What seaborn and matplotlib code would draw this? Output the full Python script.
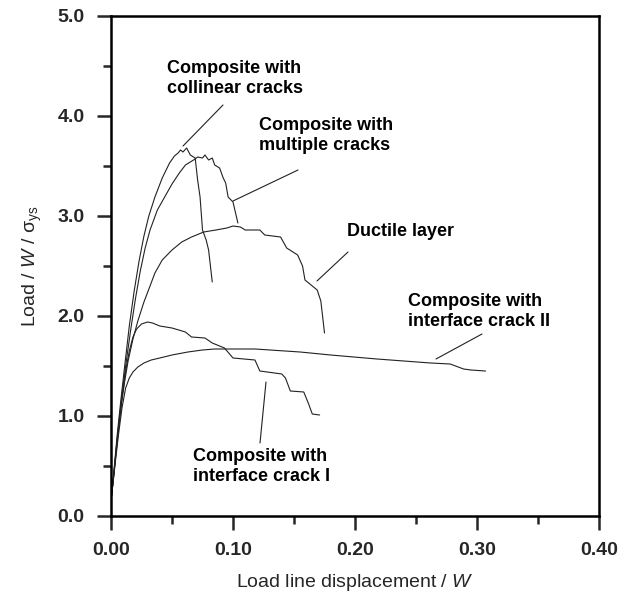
import matplotlib
matplotlib.use("Agg")
import matplotlib.pyplot as plt
import seaborn as sns
import pandas as pd

# ---- data ----
collinear_x = [0.0, 0.002, 0.005, 0.008, 0.0115, 0.015, 0.019, 0.023, 0.027, 0.031, 0.036, 0.042,
               0.048, 0.052, 0.055, 0.057, 0.059, 0.062, 0.065, 0.069, 0.071, 0.073, 0.075, 0.078,
               0.080, 0.083]
collinear_y = [0.15, 0.40, 0.80, 1.15, 1.53, 1.90, 2.25, 2.55, 2.80, 3.00, 3.19, 3.38,
               3.53, 3.60, 3.63, 3.66, 3.64, 3.68, 3.61, 3.58, 3.36, 3.19, 2.86, 2.76,
               2.66, 2.34]

multiple_x = [0.0, 0.002, 0.005, 0.008, 0.012, 0.016, 0.020, 0.024, 0.028, 0.032, 0.038, 0.044,
              0.050, 0.056, 0.061, 0.065, 0.069, 0.071, 0.075, 0.077, 0.080, 0.083, 0.085, 0.089,
              0.092, 0.094, 0.096, 0.100, 0.104]
multiple_y = [0.15, 0.38, 0.76, 1.10, 1.50, 1.85, 2.17, 2.45, 2.68, 2.86, 3.06, 3.19,
              3.32, 3.43, 3.51, 3.54, 3.57, 3.59, 3.58, 3.61, 3.56, 3.58, 3.51, 3.48,
              3.38, 3.33, 3.19, 3.14, 2.93]

ductile_x = [0.0, 0.002, 0.005, 0.008, 0.011, 0.014, 0.018, 0.022, 0.027, 0.032, 0.036, 0.042,
             0.050, 0.058, 0.066, 0.076, 0.086, 0.095, 0.100, 0.106, 0.110, 0.122, 0.126, 0.139,
             0.144, 0.153, 0.157, 0.159, 0.165, 0.169, 0.172, 0.175]
ductile_y = [0.15, 0.38, 0.75, 1.07, 1.33, 1.55, 1.77, 1.95, 2.14, 2.30, 2.43, 2.56,
             2.66, 2.74, 2.79, 2.84, 2.86, 2.88, 2.90, 2.89, 2.86, 2.86, 2.81, 2.79,
             2.68, 2.61, 2.50, 2.36, 2.30, 2.26, 2.15, 1.83]

crack1_x = [0.0, 0.003, 0.006, 0.009, 0.012, 0.015, 0.018, 0.021, 0.025, 0.030, 0.034, 0.040,
            0.050, 0.061, 0.066, 0.077, 0.083, 0.093, 0.100, 0.118, 0.122, 0.140, 0.143, 0.147,
            0.158, 0.162, 0.165, 0.171]
crack1_y = [0.15, 0.50, 0.85, 1.18, 1.45, 1.65, 1.79, 1.87, 1.92, 1.94, 1.93, 1.90,
            1.88, 1.84, 1.79, 1.78, 1.73, 1.68, 1.58, 1.56, 1.45, 1.42, 1.38, 1.25,
            1.24, 1.12, 1.02, 1.01]

crack2_x = [0.0, 0.003, 0.006, 0.009, 0.012, 0.015, 0.018, 0.022, 0.027, 0.033, 0.040, 0.050,
            0.063, 0.075, 0.085, 0.118, 0.155, 0.180, 0.218, 0.240, 0.262, 0.278, 0.289, 0.295,
            0.307]
crack2_y = [0.15, 0.48, 0.80, 1.08, 1.28, 1.38, 1.44, 1.49, 1.53, 1.56, 1.58, 1.61,
            1.64, 1.66, 1.67, 1.67, 1.64, 1.61, 1.57, 1.55, 1.53, 1.52, 1.47, 1.46,
            1.45]

x_ticks = [0.0, 0.1, 0.2, 0.3, 0.4]
x_tick_labels = ["0.00", "0.10", "0.20", "0.30", "0.40"]
y_ticks = [0.0, 1.0, 2.0, 3.0, 4.0, 5.0]
y_tick_labels = ["0.0", "1.0", "2.0", "3.0", "4.0", "5.0"]

labels = {
    "collinear": "Composite with\ncollinear cracks",
    "multiple": "Composite with\nmultiple cracks",
    "ductile": "Ductile layer",
    "crack2": "Composite with\ninterface crack II",
    "crack1": "Composite with\ninterface crack I",
}

series = {
    "collinear": (collinear_x, collinear_y),
    "multiple": (multiple_x, multiple_y),
    "ductile": (ductile_x, ductile_y),
    "crack1": (crack1_x, crack1_y),
    "crack2": (crack2_x, crack2_y),
}

# ---- styling ----
sns.set_style("ticks")
plt.rcParams["font.family"] = ["Liberation Sans", "DejaVu Sans"]
plt.rcParams["mathtext.fontset"] = "custom"
plt.rcParams["mathtext.rm"] = "Liberation Sans"
plt.rcParams["mathtext.it"] = "Liberation Sans:italic"
plt.rcParams["mathtext.sf"] = "Liberation Sans"

fig = plt.figure(figsize=(6.32, 5.98), dpi=100)
ax = fig.add_axes([111 / 632, 1 - 516 / 598, (599 - 111) / 632, (516 - 16) / 598])

for name, (xs, ys) in series.items():
    df = pd.DataFrame({"x": xs, "y": ys})
    sns.lineplot(data=df, x="x", y="y", ax=ax, sort=False, estimator=None,
                 color="#222222", linewidth=0.8)

ax.set_xlim(0, 0.4)
ax.set_ylim(0, 5.0)
ax.set_xticks(x_ticks)
ax.set_xticklabels(x_tick_labels)
ax.set_yticks(y_ticks)
ax.set_yticklabels(y_tick_labels)
ax.set_xticks([0.05, 0.15, 0.25, 0.35], minor=True)
ax.set_yticks([0.5, 1.5, 2.5, 3.5, 4.5], minor=True)

for s in ax.spines.values():
    s.set_linewidth(1.8)
    s.set_color("black")

ax.tick_params(axis="both", which="major", direction="out", length=10, width=1.8,
               labelsize=14, pad=9, top=False, right=False)
ax.tick_params(axis="both", which="minor", direction="out", length=6, width=1.8,
               top=False, right=False)
for lab in ax.get_xticklabels() + ax.get_yticklabels():
    lab.set_fontweight("bold")

ax.set_xlabel(r"Load line displacement / $\mathit{W}$", fontsize=14, labelpad=9)
ax.set_ylabel(r"Load / $\mathit{W}$ / σ$_{\rm ys}$", fontsize=14, labelpad=10)


def px(xp, yp):
    return (xp - 111) / 1220.0, (516 - yp) / 100.0


text_kw = dict(fontsize=13, fontweight="semibold", ha="left", va="top", linespacing=1.25,
               color="black")

ax.text(*px(167, 60), labels["collinear"], **text_kw)
ax.text(*px(259, 117), labels["multiple"], **text_kw)
ax.text(*px(347, 223), labels["ductile"], **text_kw)
ax.text(*px(408, 293), labels["crack2"], **text_kw)
ax.text(*px(193, 448), labels["crack1"], **text_kw)

leaders = [
    ((223, 105), (183, 146)),
    ((298, 170), (233, 201)),
    ((348, 252), (317, 281)),
    ((482, 334), (436, 359)),
    ((266, 382), (260, 443)),
]
for (a, b) in leaders:
    (x0, y0), (x1, y1) = px(*a), px(*b)
    ax.plot([x0, x1], [y0, y1], color="#222222", linewidth=0.8)

fig.savefig("out.png", dpi=100)
